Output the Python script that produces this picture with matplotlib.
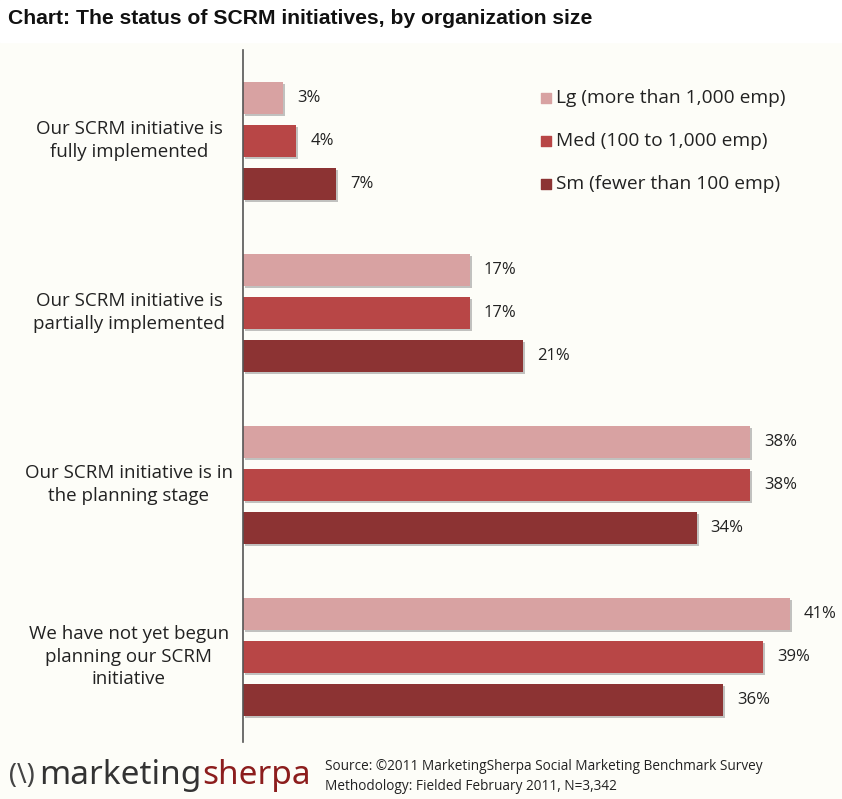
"""The status of SCRM initiatives, by organization size (MarketingSherpa 2011)."""

import matplotlib

matplotlib.use("Agg")
import matplotlib.pyplot as plt
import matplotlib.patheffects as pe

CATEGORIES = [
    "Our SCRM initiative is\nfully implemented",
    "Our SCRM initiative is\npartially implemented",
    "Our SCRM initiative is in\nthe planning stage",
    "We have not yet begun\nplanning our SCRM\ninitiative",
]
SERIES = [
    "Lg (more than 1,000 emp)",
    "Med (100 to 1,000 emp)",
    "Sm (fewer than 100 emp)",
]
LG = [3, 17, 38, 41]
MED = [4, 17, 38, 39]
SM = [7, 21, 34, 36]
COLORS = ["#D8A2A2", "#B84646", "#8C3333"]

W, H = 842, 799
X0 = 243  # pixel x of the value axis
PX_PER_PCT = 13.34
GROUP_STEP, BAR_STEP, BAR_H = 172, 43, 32
FIRST = 97.5
FONT = ["Open Sans", "DejaVu Sans"]
INK = "#222222"

fig = plt.figure(figsize=(W / 100, H / 100), dpi=100)
fig.patch.set_facecolor("#FDFDF8")
fig.patches.append(
    plt.Rectangle((0, (H - 42) / H), 1, 42 / H, transform=fig.transFigure,
                  color="white", zorder=0)
)

top, bottom = 50, 742
ax = fig.add_axes([X0 / W, 1 - bottom / H, 1 - X0 / W, (bottom - top) / H])
ax.set_facecolor("none")
ax.set_xlim(0, (W - X0) / PX_PER_PCT)
ax.set_ylim(bottom, top)

shadow = [pe.SimplePatchShadow(offset=(1.5, -1.5), shadow_rgbFace="#9a9a9a", alpha=0.6), pe.Normal()]
for j, (vals, col) in enumerate(zip([LG, MED, SM], COLORS)):
    ys = [FIRST + i * GROUP_STEP + j * BAR_STEP for i in range(len(vals))]
    bars = ax.barh(ys, vals, height=BAR_H, color=col, edgecolor="none", zorder=2)
    for b in bars:
        b.set_path_effects(shadow)
    for y, v in zip(ys, vals):
        ax.text(v + 1.05, y, f"{v}%", va="center", ha="left", fontsize=12,
                family=FONT, color=INK)
    # legend swatch + label beside the first group
    ax.scatter([22.7], [ys[0]], marker="s", s=60, color=col, zorder=3)
    ax.text(23.5, ys[0], SERIES[j], va="center", ha="left", fontsize=13.8,
            family=FONT, color=INK)

for i, cat in enumerate(CATEGORIES):
    ax.text(-8.55, FIRST + i * GROUP_STEP + BAR_STEP, cat, ha="center",
            va="center", fontsize=13.5, family=FONT, color=INK,
            linespacing=1.3)

for s in ["top", "right", "bottom"]:
    ax.spines[s].set_visible(False)
ax.spines["left"].set_color("#555555")
ax.spines["left"].set_linewidth(1.2)
ax.set_xticks([])
ax.set_yticks([])

fig.text(8 / W, 1 - 19 / H, "Chart: The status of SCRM initiatives, by organization size",
         fontsize=15.2, fontweight="bold", family="Liberation Sans", va="center",
         color="#111111")

# footer: logo and source note
fig.canvas.draw()
r = fig.canvas.get_renderer()
fig.text(9 / W, 1 - 776 / H, "(\\)", fontsize=19, family="Noto Sans",
         fontweight="light", color="#444444", va="center")
mk = fig.text(39 / W, 1 - 775 / H, "marketing", fontsize=24, family="Noto Sans",
              fontweight="light", color="#333333", va="center")
x_end = mk.get_window_extent(r).x1
fig.text((x_end + 1) / W, 1 - 775 / H, "sherpa", fontsize=24, family="Noto Sans",
         fontweight="bold", color="#8C1D1D", va="center")
fig.text(325 / W, 1 - 766 / H,
         "Source: \u00a92011 MarketingSherpa Social Marketing Benchmark Survey",
         fontsize=9.8, family=FONT, va="center", color=INK)
fig.text(325 / W, 1 - 786 / H,
         "Methodology: Fielded February 2011, N=3,342",
         fontsize=9.8, family=FONT, va="center", color=INK)

fig.savefig("out.png", dpi=100, facecolor=fig.get_facecolor())
